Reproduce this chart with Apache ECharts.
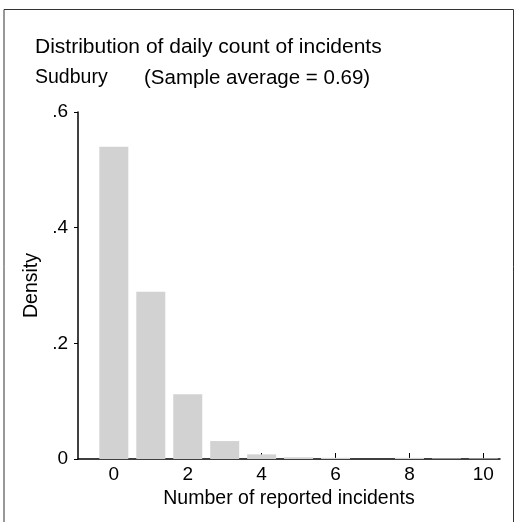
<!DOCTYPE html>
<html>
<head>
<meta charset="utf-8">
<script src="https://cdn.jsdelivr.net/npm/echarts@6/dist/echarts.min.js"></script>
<style>
  html, body { margin: 0; padding: 0; background: #fff; }
  #chart { width: 515px; height: 522px; }
</style>
</head>
<body>
<div id="chart"></div>
<script>
// counts 0..10 and their density
const counts = [0, 1, 2, 3, 4, 5, 6, 7, 8, 9, 10];
const density = [0.54, 0.289, 0.112, 0.031, 0.008, 0.003, 0.002, 0, 0.002, 0.001, 0.001];
const xTicks = [0, 2, 4, 6, 8, 10];

const FONT = '"Liberation Sans", Arial, sans-serif';
const chart = echarts.init(document.getElementById('chart'));

const option = {
  backgroundColor: '#fff',
  animation: false,
  textStyle: { fontFamily: FONT, color: '#000' },
  grid: { left: 78, right: 15, top: 112, bottom: 63 },
  graphic: [
    {
      type: 'rect',
      shape: { x: 4, y: 9.5, width: 509.5, height: 530 },
      style: { fill: 'none', stroke: '#333', lineWidth: 1 }
    },
    {
      type: 'text', left: 35, top: 37,
      style: { text: 'Distribution of daily count of incidents', font: '21px ' + FONT, fill: '#000' }
    },
    {
      type: 'text', left: 35, top: 68,
      style: { text: 'Sudbury', font: '19.5px ' + FONT, fill: '#000' }
    },
    {
      type: 'text', left: 144, top: 68,
      style: { text: '(Sample average = 0.69)', font: '20.5px ' + FONT, fill: '#000' }
    }
  ],
  xAxis: {
    type: 'value',
    min: -0.97,
    max: 10.45,
    name: 'Number of reported incidents',
    nameLocation: 'middle',
    nameGap: 16,
    nameTextStyle: { fontSize: 19.5, color: '#000' },
    splitLine: { show: false },
    axisLine: { show: true, onZero: false, lineStyle: { color: '#000', width: 1.5 } },
    axisTick: { show: true, inside: true, length: 6, customValues: xTicks, lineStyle: { color: '#000' } },
    axisLabel: { customValues: xTicks, fontSize: 19, color: '#000', margin: 6 }
  },
  yAxis: {
    type: 'value',
    min: 0,
    max: 0.6,
    interval: 0.2,
    name: 'Density',
    nameLocation: 'middle',
    nameGap: 33,
    nameTextStyle: { fontSize: 19.5, color: '#000' },
    splitLine: { show: false },
    axisLine: { show: true, onZero: false, lineStyle: { color: '#000', width: 1.5 } },
    axisTick: { show: true, length: 4, lineStyle: { color: '#000' } },
    axisLabel: {
      fontSize: 19, color: '#000', margin: 10,
      formatter: v => v === 0 ? '0' : String(+v.toFixed(1)).replace(/^0/, '')
    }
  },
  series: [{
    type: 'bar',
    data: counts.map((c, i) => [c, density[i]]),
    barWidth: 29,
    itemStyle: { color: '#d2d2d2' }
  }]
};

chart.setOption(option);
</script>
</body>
</html>
